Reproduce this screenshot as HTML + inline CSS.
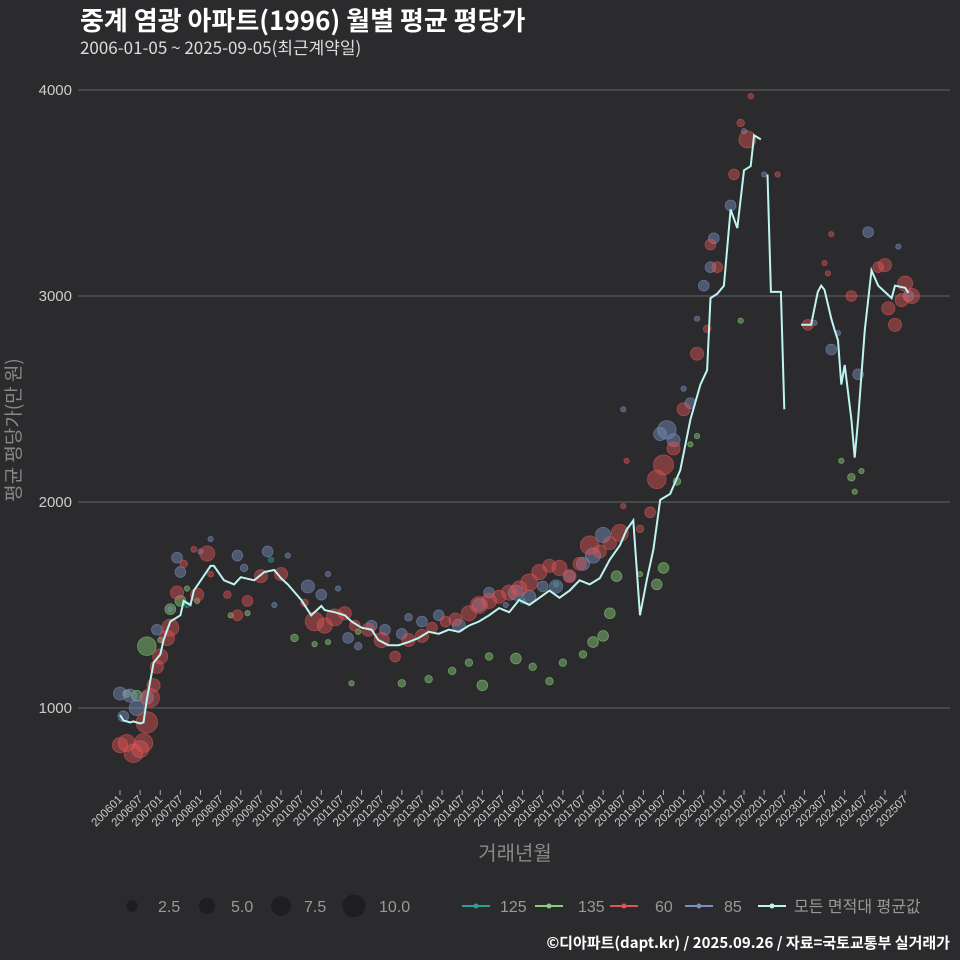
<!DOCTYPE html>
<html><head><meta charset="utf-8"><style>
html,body{margin:0;padding:0;background:#2b2b2d;}
svg{display:block;font-family:"Liberation Sans","Noto Sans CJK KR",sans-serif;}
.kr{font-family:"Noto Sans CJK KR","Liberation Sans",sans-serif;}
</style></head><body>
<svg id="c" width="960" height="960" viewBox="0 0 960 960">
<rect width="960" height="960" fill="#2b2b2d"/>
<text class="kr" x="80" y="30" fill="#fff" font-size="26" font-weight="bold">중계 염광 아파트(1996) 월별 평균 평당가</text>
<text class="kr" x="80" y="54" fill="#ddd" font-size="17">2006-01-05 ~ 2025-09-05(최근계약일)</text>
<text class="kr" transform="translate(20,430) rotate(-90)" text-anchor="middle" fill="#888" font-size="19">평균 평당가(만 원)</text>
<text class="kr" x="515" y="860" text-anchor="middle" fill="#888" font-size="20">거래년월</text>
<text class="kr" x="950" y="948" text-anchor="end" fill="#fff" font-size="15" font-weight="bold">©디아파트(dapt.kr) / 2025.09.26 / 자료=국토교통부 실거래가</text>
<g id="grid"></g><g id="xaxis"></g><g id="pts"></g><g id="line"></g><g id="legend"></g>
</svg>
<script>
const yTicks=[1000,2000,3000,4000];
const avgMonths=[0,1,3,4,6,7,8,10,12,13,15,18,19,21,22,27,28,31,34,36,40,43,46,48,50,54,57,60,61,64,67,69,72,75,77,80,83,86,89,92,95,98,101,104,107,110,113,116,119,122,125,128,131,134,137,140,143,146,149,151,153,155,157,159,161,164,167,170,173,175,176,178,180,182,184,186,188,189,191,null,193,194,197,198,null,203,206,208,209,210,212,213,214,215,216,218,219,220,222,224,226,228,230,231,234,235];
const avgValues=[966,940,930,935,925,930,1040,1220,1260,1330,1420,1450,1520,1500,1570,1690,1690,1620,1600,1635,1620,1660,1670,1630,1600,1525,1450,1495,1475,1465,1450,1420,1390,1380,1330,1305,1305,1320,1340,1370,1360,1380,1370,1400,1420,1450,1485,1465,1525,1500,1535,1570,1535,1570,1620,1600,1630,1720,1790,1865,1910,1450,1620,1770,2010,2040,2155,2400,2570,2640,2990,3010,3050,3420,3330,3610,3630,3780,3760,null,3590,3020,3020,2450,null,2860,2860,3020,3050,3030,2890,2835,2785,2570,2665,2400,2215,2400,2835,3125,3050,3020,2990,3050,3040,3015];
const s60=[[0,820,4],[2,830,5],[4,780,6],[6,800,5],[7,830,6],[8,930,8],[9,1050,6],[10,1110,3],[11,1200,3],[12,1250,4],[14,1340,4],[15,1390,5],[17,1560,3],[19,1700,1],[22,1770,0.6],[23,1550,3],[26,1750,4],[27,1650,0.6],[32,1550,1],[35,1450,2],[38,1520,2],[42,1640,3],[48,1650,3],[55,1510,1],[58,1420,6],[61,1400,4],[64,1440,5],[67,1460,3],[70,1400,2],[74,1380,3],[78,1330,4],[82,1250,2],[86,1330,3],[90,1350,3],[93,1390,2],[97,1420,2],[100,1430,3],[104,1460,4],[107,1500,5],[110,1520,4],[113,1540,3],[116,1560,4],[119,1580,4],[122,1610,5],[125,1660,4],[128,1690,3],[131,1680,4],[134,1640,3],[137,1700,3],[140,1790,6],[143,1760,3],[146,1800,3],[149,1850,5],[150,1980,0.5],[151,2200,0.5],[155,1870,1],[158,1950,2],[160,2110,6],[162,2180,7],[165,2260,3],[168,2450,3],[172,2720,3],[175,2840,1],[176,3250,2],[178,3140,2],[183,3590,2],[185,3840,1],[187,3760,5],[188,3970,0.5],[196,3590,0.5],[205,2860,2],[210,3160,0.5],[211,3110,0.5],[212,3300,0.5],[218,3000,2],[226,3140,2],[228,3150,3],[229,2940,3],[231,2860,3],[233,2980,3],[234,3060,4],[236,3000,4]];
const s85=[[0,1070,3],[1,960,2],[3,1060,3],[5,1000,4],[8,1050,3],[11,1380,2],[15,1480,0.5],[17,1730,2],[18,1660,2],[24,1760,0.5],[27,1820,0.5],[35,1740,2],[37,1680,1],[44,1760,2],[46,1500,0.5],[50,1740,0.5],[56,1590,3],[60,1550,2],[62,1650,0.5],[65,1580,0.5],[68,1340,2],[71,1300,1],[75,1400,2],[79,1380,2],[84,1360,2],[86,1440,1],[90,1420,2],[95,1450,2],[101,1400,3],[107,1500,3],[110,1560,2],[115,1500,0.5],[118,1560,4],[122,1540,3],[126,1590,2],[130,1590,3],[134,1640,2],[138,1700,3],[141,1740,4],[144,1840,4],[150,2450,0.5],[161,2330,3],[163,2350,6],[165,2300,3],[168,2550,0.5],[170,2480,2],[172,2890,0.5],[174,3050,2],[176,3140,2],[177,3280,2],[182,3440,2],[186,3800,0.5],[192,3590,0.5],[207,2870,0.5],[214,2820,0.5],[212,2740,2],[220,2620,2],[223,3310,2],[232,3240,0.5],[235,3000,2]];
const s135=[[2,1070,1],[5,1060,2],[8,1300,6],[12,1330,0.5],[15,1480,2],[18,1520,2],[20,1580,0.5],[23,1520,0.5],[33,1450,0.5],[38,1460,0.5],[52,1340,1],[58,1310,0.5],[62,1320,0.5],[69,1120,0.5],[71,1370,0.5],[84,1120,1],[92,1140,1],[99,1180,1],[104,1220,1],[108,1110,2],[110,1250,1],[118,1240,2],[123,1200,1],[128,1130,1],[132,1220,1],[138,1260,1],[141,1320,2],[144,1350,2],[146,1460,2],[148,1640,2],[155,1650,0.5],[160,1600,2],[162,1680,2],[166,2100,1],[170,2280,0.5],[172,2320,0.5],[185,2880,0.5],[215,2200,0.5],[218,2120,1],[219,2050,0.5],[221,2150,0.5]];
const s125=[[20,1500,0.5],[45,1720,0.5],[120,1520,0.5],[130,1600,0.5]];
const xLabels=[];for(let y=2006;y<=2025;y++){xLabels.push(y+"01");xLabels.push(y+"07");}

const NS="http://www.w3.org/2000/svg";
const X=m=>120+m*3.355, Y=v=>708-(v-1000)*0.206, R=n=>3.8*Math.sqrt(n);
function mk(tag,at,parent){const e=document.createElementNS(NS,tag);for(const k in at)e.setAttribute(k,at[k]);parent.appendChild(e);return e;}
const grid=document.getElementById('grid');
yTicks.forEach(t=>{
  const l=mk('line',{x1:78,x2:950,y1:Y(t),y2:Y(t),stroke:'#5a5a5a','stroke-width':1.3},grid);
  
  
  const tx=mk('text',{x:72,y:Y(t)+5,'text-anchor':'end',fill:'#ccc','font-size':15},grid);
  tx.textContent=t;
  
  
});
const xa=document.getElementById('xaxis');
xLabels.forEach((lab,i)=>{
  const m=i*6; if(m>234)return;
  const x=X(m);
  const tk=mk('line',{x1:x,x2:x,y1:790,y2:795,stroke:'#aaa','stroke-width':1},xa);
  
  
  const t=mk('text',{transform:`translate(${x+3},800) rotate(-45)`,'text-anchor':'end',fill:'#ccc','font-size':11.5},xa);
  t.textContent=lab;
  
  
});
const pts=document.getElementById('pts');
[[s125,'#2aa198','area-125'],[s135,'#8ad07a','area-135'],[s85,'#7a90c0','area-85'],[s60,'#e05555','area-60']].forEach(([arr,col,nm])=>{
  arr.forEach(p=>{
    const c=mk('circle',{cx:X(p[0]),cy:Y(p[1]),r:R(p[2]),fill:col,'fill-opacity':0.45,stroke:col,'stroke-opacity':0.6,'stroke-width':0.8},pts);
    
    
  });
});
let d='',pen=false;
avgMonths.forEach((m,i)=>{
  if(m===null||avgValues[i]===null){pen=false;return;}
  d+=(pen?'L':'M')+X(m).toFixed(1)+','+Y(avgValues[i]).toFixed(1);pen=true;
});
const ln=mk('path',{d:d,fill:'none',stroke:'#bff5f0','stroke-width':2},document.getElementById('line'));


const lg=document.getElementById('legend');
[[2.5,132,158],[5.0,207,231],[7.5,281,304],[10.0,354,379]].forEach(([n,cx,tx])=>{
  const c=mk('circle',{cx:cx,cy:906,r:R(n)*0.95,fill:'#1e1e20'},lg);
  
  
  const t=mk('text',{x:tx,y:912,fill:'#999','font-size':16},lg);
  t.textContent=n.toFixed(1);
  
  
});
[['125','#2aa198',462,500],['135','#8ad07a',535,578],['60','#e05555',610,655],['85','#7a90c0',685,724],['모든 면적대 평균값','#bff5f0',758,794]].forEach(([lab,col,x,tx])=>{
  const g=mk('g',{},lg);
  
  
  mk('line',{x1:x,x2:x+28,y1:906,y2:906,stroke:col,'stroke-width':2},g);
  mk('circle',{cx:x+14,cy:906,r:2.5,fill:col},g);
  const t=mk('text',{x:tx,y:912,fill:'#999','font-size':16,'font-family':'"Liberation Sans","Noto Sans CJK KR",sans-serif'},g);
  t.textContent=lab;
});
</script>
</body></html>
